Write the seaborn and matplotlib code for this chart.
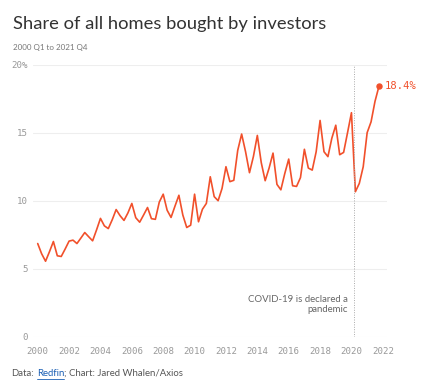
import numpy as np
import pandas as pd
import matplotlib
matplotlib.use("Agg")
import matplotlib.pyplot as plt
import seaborn as sns

# Quarterly share of homes bought by investors, 2000 Q1 - 2021 Q4 (%)
years = list(range(2000, 2022))
quarters = [1, 2, 3, 4]
share = [
    6.85, 6.1, 5.55, 6.25,    # 2000
    7.0, 5.95, 5.9, 6.45,     # 2001
    7.03, 7.1, 6.85, 7.25,    # 2002
    7.66, 7.35, 7.05, 7.85,   # 2003
    8.7, 8.15, 7.95, 8.6,     # 2004
    9.35, 8.9, 8.55, 9.1,     # 2005
    9.8, 8.75, 8.42, 8.95,    # 2006
    9.5, 8.68, 8.63, 9.9,     # 2007
    10.48, 9.3, 8.77, 9.6,    # 2008
    10.4, 8.95, 8.03, 8.2,    # 2009
    10.48, 8.45, 9.37, 9.8,   # 2010
    11.76, 10.3, 10.0, 10.9,  # 2011
    12.5, 11.4, 11.5, 13.7,   # 2012
    14.9, 13.6, 12.06, 13.25, # 2013
    14.8, 12.8, 11.47, 12.4,  # 2014
    13.5, 11.2, 10.8, 12.0,   # 2015
    13.06, 11.1, 11.05, 11.7, # 2016
    13.78, 12.4, 12.25, 13.6, # 2017
    15.9, 13.6, 13.24, 14.6,  # 2018
    15.55, 13.38, 13.55, 15.0,# 2019
    16.47, 10.66, 11.27, 12.5,# 2020
    15.0, 15.8, 17.3, 18.4,   # 2021
]
x_ticks = list(range(2000, 2023, 2))
y_ticks = [0, 5, 10, 15, 20]
y_labels = ["0", "5", "10", "15", "20%"]
pandemic_date = 2020.19

df = pd.DataFrame({
    "year": np.repeat(years, 4),
    "quarter": quarters * len(years),
    "share": share,
})
df["t"] = df["year"] + (df["quarter"] - 1) / 4

orange = "#f1502b"
mono = ["DejaVu Sans Mono"]
sans = ["Lato", "DejaVu Sans"]

sns.set_style("white")
plt.rcParams["font.family"] = sans

fig = plt.figure(figsize=(4.28, 3.89), dpi=100)
ax = fig.add_axes([0.0771, 0.1344, 0.8269, 0.6993])

sns.lineplot(data=df, x="t", y="share", color=orange, linewidth=1.2, ax=ax)
last = df.iloc[-1]
ax.plot(last["t"], last["share"], "o", color=orange, markersize=3.6, clip_on=False)
ax.text(last["t"] + 0.35, last["share"], f"{last['share']:.1f}%", color=orange,
        fontsize=7.6, family=mono, va="center", ha="left")

ax.axvline(pandemic_date, color="#aaaaaa", linestyle=(0, (1, 1.5)), linewidth=0.7)
ax.text(pandemic_date - 0.4, 2.35, "COVID-19 is declared a\npandemic", ha="right",
        va="center", fontsize=6.9, color="#666666", linespacing=1.2)

ax.set_xlim(1999.7, 2022.26)
ax.set_ylim(0, 20)
ax.set_xticks(x_ticks)
ax.set_xticklabels([str(v) for v in x_ticks], family=mono, fontsize=6.6, color="#999999")
ax.set_yticks(y_ticks)
ax.set_yticklabels(y_labels, family=mono, fontsize=6.6, color="#999999")
ax.tick_params(axis="x", length=4.5, width=0.6, color="#e5e5e5", pad=3)
ax.tick_params(axis="y", length=0, pad=3.5)
ax.grid(axis="y", color="#eeeeee", linewidth=0.8)
ax.grid(axis="x", visible=False)
for s in ax.spines.values():
    s.set_visible(False)
ax.set_xlabel("")
ax.set_ylabel("")

fig.text(0.03, 0.925, "Share of all homes bought by investors", fontsize=13.2, color="#333333")
fig.text(0.03, 0.872, "2000 Q1 to 2021 Q4", fontsize=5.8, color="#777777")

# footer: place pieces one after another using measured widths
renderer = fig.canvas.get_renderer()
x0, y0 = 0.026, 0.033
pieces = [("Data:", "#555555", 0.007), ("Redfin", "#1a5fb4", 0.0),
          ("; Chart: Jared Whalen/Axios", "#555555", 0.0)]
for txt, col, gap in pieces:
    t = fig.text(x0, y0, txt, fontsize=6.9, color=col)
    bb = t.get_window_extent(renderer).transformed(fig.transFigure.inverted())
    if txt == "Redfin":
        fig.lines.append(plt.Line2D([bb.x0, bb.x1], [y0 - 0.008, y0 - 0.008],
                                    transform=fig.transFigure, color=col, linewidth=0.6))
    x0 = bb.x1 + gap

fig.savefig("out.png", dpi=100)
